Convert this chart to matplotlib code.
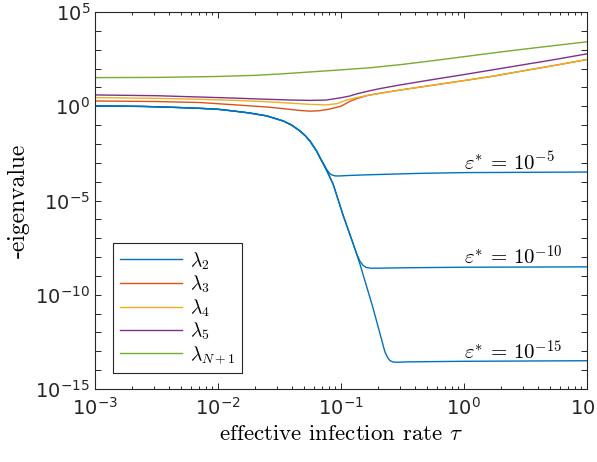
import numpy as np
import matplotlib
matplotlib.use("Agg")
import matplotlib.pyplot as plt
from matplotlib.ticker import FixedLocator, FuncFormatter, NullLocator

plt.rcParams['mathtext.fontset'] = 'cm'
# police "custom" pour les etiquettes des graduations (style Helvetica)
plt.rcParams['mathtext.rm'] = 'Liberation Sans'
plt.rcParams['mathtext.it'] = 'Liberation Sans:italic'
plt.rcParams['mathtext.bf'] = 'Liberation Sans:bold'
plt.rcParams['mathtext.sf'] = 'Liberation Sans'

# Donnees (log10 tau, log10 -valeur propre)
green_x = [-3.0, -2.5, -2.0, -1.7, -1.5, -1.25, -1.0, -0.75, -0.5, -0.25, 0.0, 0.25, 0.5, 0.75, 1.0]
green_y = [1.52, 1.53, 1.58, 1.64, 1.71, 1.82, 1.93, 2.05, 2.22, 2.42, 2.63, 2.84, 3.04, 3.23, 3.42]

purple_x = [-3.0, -2.5, -2.15, -1.9, -1.6, -1.4, -1.25, -1.12, -1.0, -0.93, -0.87, -0.78, -0.68, -0.52,
            -0.25, 0.0, 0.25, 0.5, 0.75, 1.0]
purple_y = [0.60, 0.56, 0.49, 0.44, 0.37, 0.33, 0.31, 0.33, 0.45, 0.54, 0.66, 0.80, 0.94, 1.13,
            1.42, 1.68, 1.95, 2.22, 2.49, 2.78]

yellow_x = [-3.0, -2.5, -2.15, -1.85, -1.6, -1.4, -1.25, -1.12, -1.03, -0.95, -0.87, -0.78, -0.68, -0.52,
            -0.25, 0.0, 0.25, 0.5, 0.75, 1.0]
yellow_y = [0.46, 0.42, 0.37, 0.31, 0.24, 0.16, 0.10, 0.07, 0.14, 0.34, 0.46, 0.58, 0.69, 0.86,
            1.12, 1.36, 1.61, 1.90, 2.18, 2.48]

orange_x = [-3.0, -2.5, -2.15, -1.85, -1.6, -1.45, -1.32, -1.25, -1.18, -1.10, -1.0, -0.93, -0.87, -0.78,
            -0.68, -0.52, -0.25, 0.0, 0.25, 0.5, 0.75, 1.0]
orange_y = [0.28, 0.25, 0.20, 0.07, -0.04, -0.14, -0.23, -0.26, -0.24, -0.16, 0.0, 0.25, 0.41, 0.58,
            0.69, 0.86, 1.12, 1.36, 1.61, 1.90, 2.18, 2.48]

# lambda_2 pour les trois valeurs de epsilon*
blue_x_common = [-3.0, -2.6, -2.35, -2.146, -2.0, -1.876, -1.75, -1.604, -1.469, -1.40, -1.333,
                 -1.29, -1.252, -1.198, -1.16]
blue_y_common = [0.02, -0.01, -0.06, -0.11, -0.16, -0.25, -0.35, -0.51, -0.78, -1.0, -1.31,
                 -1.56, -1.84, -2.37, -2.85]

eps5_x = [-1.135, -1.115, -1.095, -1.075, -1.05, -1.02, -0.93, -0.80, -0.36, 0.0, 1.0]
eps5_y = [-3.12, -3.36, -3.54, -3.64, -3.69, -3.70, -3.67, -3.64, -3.56, -3.52, -3.49]

eps10_x = [-1.13, -1.10, -1.063, -0.981, -0.90, -0.87, -0.845, -0.82, -0.795, -0.76, -0.70, -0.5, 0.0, 1.0]
eps10_y = [-3.22, -3.62, -4.13, -5.80, -7.30, -7.85, -8.22, -8.44, -8.55, -8.59, -8.59, -8.57, -8.54, -8.52]

eps15_x = [-1.13, -1.10, -1.063, -0.981, -0.90, -0.846, -0.737, -0.642, -0.62, -0.60, -0.575, -0.54, -0.45, 0.0, 1.0]
eps15_y = [-3.22, -3.62, -4.13, -5.80, -7.30, -8.35, -10.74, -13.03, -13.33, -13.50, -13.57, -13.58, -13.56, -13.53, -13.50]

eps_labels = [r'$\varepsilon^{*}\,=\,10^{-5}$', r'$\varepsilon^{*}\,=\,10^{-10}$', r'$\varepsilon^{*}\,=\,10^{-15}$']
eps_label_y = [1e-3, 1e-8, 1e-13]

c_blue = '#0072BD'
c_orange = '#D95319'
c_yellow = '#EDB120'
c_purple = '#7E2F8E'
c_green = '#77AC30'

fig = plt.figure(figsize=(5.97, 4.62), dpi=100)
ax = fig.add_axes([0.159, 0.158, 0.824, 0.816])

lw = 1.0
for bx, by in [(eps5_x, eps5_y), (eps10_x, eps10_y), (eps15_x, eps15_y)]:
    xx = np.array(blue_x_common + bx)
    yy = np.array(blue_y_common + by)
    l2, = ax.plot(10**xx, 10**yy, color=c_blue, lw=lw)
l3, = ax.plot(10**np.array(orange_x), 10**np.array(orange_y), color=c_orange, lw=lw)
l4, = ax.plot(10**np.array(yellow_x), 10**np.array(yellow_y), color=c_yellow, lw=lw)
l5, = ax.plot(10**np.array(purple_x), 10**np.array(purple_y), color=c_purple, lw=lw)
lN, = ax.plot(10**np.array(green_x), 10**np.array(green_y), color=c_green, lw=lw)

ax.set_xscale('log')
ax.set_yscale('log')
ax.set_xlim(1e-3, 1e1)
ax.set_ylim(1e-15, 1e5)

for lab, yv in zip(eps_labels, eps_label_y):
    ax.text(1.0, yv, lab, ha='left', va='center', fontsize=15, color='k')

# graduations
ax.xaxis.set_major_locator(FixedLocator([1e-3, 1e-2, 1e-1, 1e0, 1e1]))
ax.xaxis.set_major_formatter(FuncFormatter(lambda v, p: r'$\mathdefault{10^{%d}}$' % round(np.log10(v))))
minors = [m * 10.0**k for k in range(-3, 1) for m in range(2, 10)]
ax.xaxis.set_minor_locator(FixedLocator(minors))
ax.yaxis.set_major_locator(FixedLocator([10.0**k for k in range(-15, 6)]))
ax.yaxis.set_major_formatter(FuncFormatter(
    lambda v, p: r'$\mathdefault{10^{%d}}$' % round(np.log10(v)) if round(np.log10(v)) % 5 == 0 else ''))
ax.yaxis.set_minor_locator(NullLocator())

dark = '#262626'
ax.tick_params(which='both', direction='in', top=True, right=True, colors=dark,
               labelsize=14, width=0.7)
ax.tick_params(which='major', length=4)
ax.tick_params(which='minor', length=2.5)
ax.tick_params(axis='x', pad=6)
for s in ax.spines.values():
    s.set_color(dark)
    s.set_linewidth(0.8)
for t in ax.get_xticklabels() + ax.get_yticklabels():
    t.set_math_fontfamily('custom')

ax.set_xlabel(r'effective infection rate $\tau$', fontsize=16.5, family='cmr10', color='k')
ax.set_ylabel('-eigenvalue', fontsize=17, family='cmr10', color='k')

leg = ax.legend([l2, l3, l4, l5, lN],
                [r'$\lambda_2$', r'$\lambda_3$', r'$\lambda_4$', r'$\lambda_5$', r'$\lambda_{N+1}$'],
                loc='lower left', bbox_to_anchor=(0.0366, 0.0424), borderaxespad=0,
                fancybox=False, framealpha=1, edgecolor=dark, fontsize=14,
                handlelength=3.2, handletextpad=0.4, labelspacing=0.12, borderpad=0.35)
leg.get_frame().set_linewidth(0.8)

fig.savefig('out.png', dpi=100)
